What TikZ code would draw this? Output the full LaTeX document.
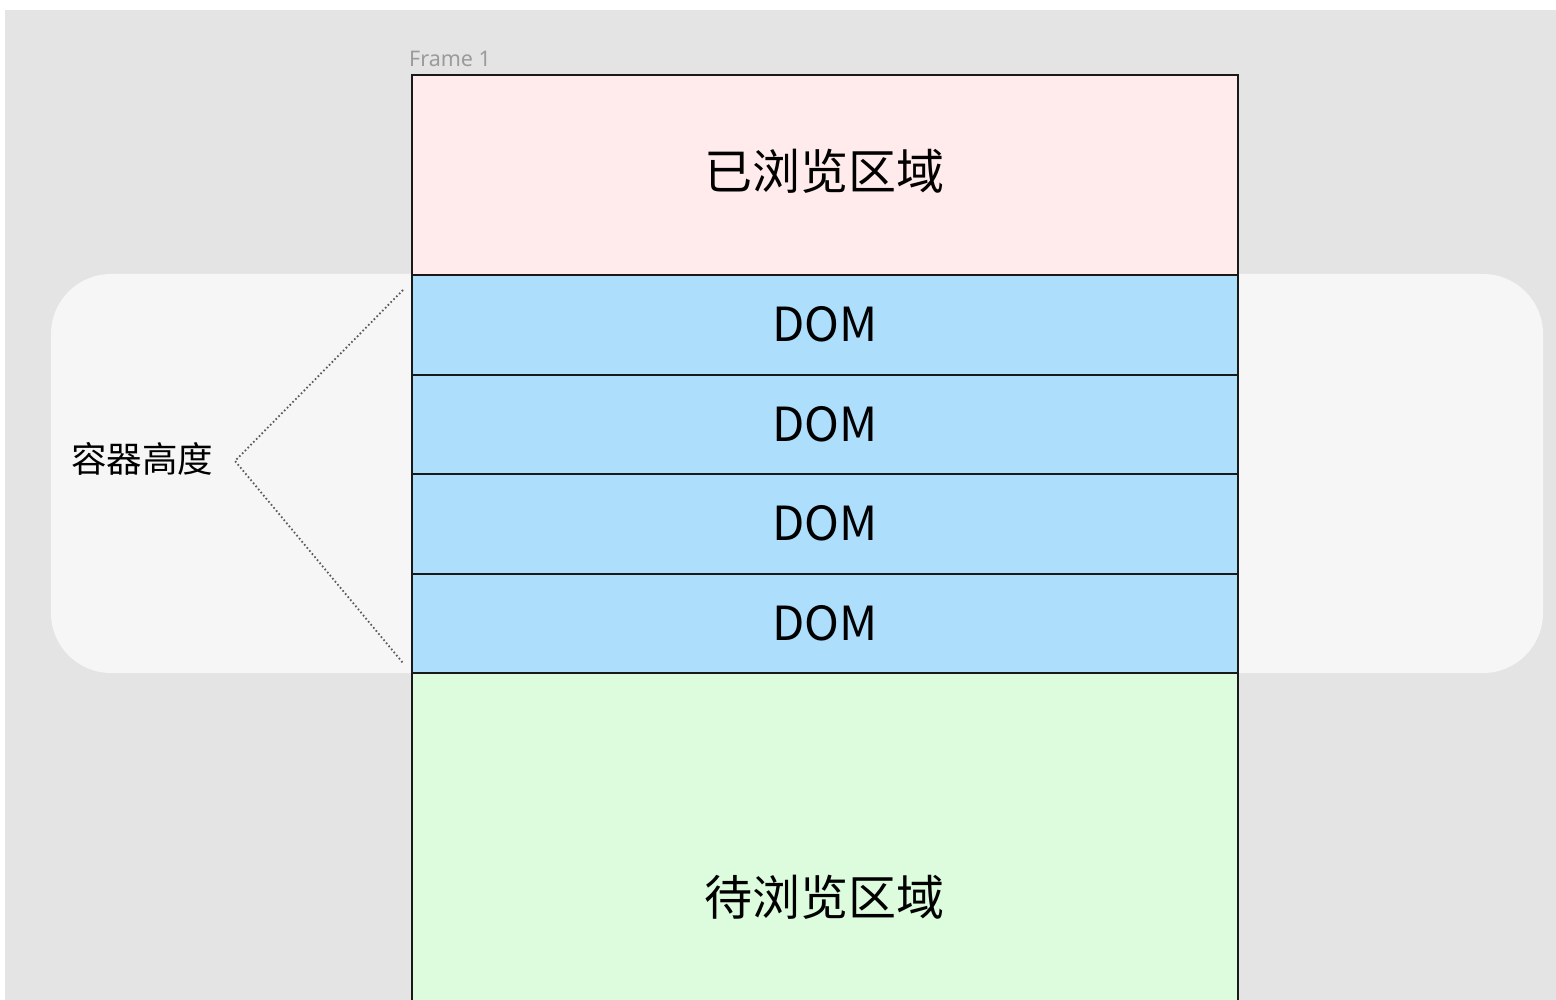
\documentclass[tikz,border=0pt]{standalone}
\usepackage{fontspec}
\newfontfamily\cjk{Noto Sans CJK SC}
\newfontfamily\uifont{Noto Sans}
\definecolor{bggray}{RGB}{228,228,228}
\definecolor{panelgray}{RGB}{246,246,246}
\definecolor{pinkfill}{RGB}{255,235,235}
\definecolor{bluefill}{RGB}{173,223,252}
\definecolor{greenfill}{RGB}{221,252,221}
\definecolor{framelabel}{RGB}{155,155,155}
\begin{document}
\begin{tikzpicture}[x=1pt,y=-1pt,
  region/.style={draw=black!90,line width=2pt,minimum width=826pt,inner sep=0pt,anchor=north west},
  domrow/.style={region,fill=bluefill,minimum height=99.5pt,font=\cjk\fontsize{47}{50}\selectfont},
  bigtext/.style={font=\cjk\fontsize{48}{52}\selectfont}]
\useasboundingbox (0,0) rectangle (1556,1000);
\fill[white] (0,0) rectangle (1556,1000);
\fill[bggray] (5,10) rectangle (1556,1000);
\fill[panelgray,rounded corners=60pt] (51,274) rectangle (1543,673);
\node[anchor=south west,inner sep=0pt,text=framelabel,font=\uifont\fontsize{21.5}{24}\selectfont] (flabel) at (409,67) {Frame 1};
\begin{scope}
\clip (0,0) rectangle (1556,1000);
\node[region,fill=pinkfill,minimum height=200pt] (seen) at (411,74) {};
\node[bigtext] at (824,171) {已浏览区域};
\node[domrow] (d1) at (411,274) {DOM};
\node[domrow] (d2) at (411,373.5) {DOM};
\node[domrow] (d3) at (411,473) {DOM};
\node[domrow] (d4) at (411,572.5) {DOM};
\node[region,fill=greenfill,minimum height=360pt] (todo) at (411,672) {};
\node[bigtext] at (824,897) {待浏览区域};
\end{scope}
\node[font=\cjk\fontsize{35.5}{40}\selectfont,anchor=center] (hlabel) at (142,459) {容器高度};
\coordinate (tip) at (235,461);
\coordinate (top) at (403,290);
\coordinate (bot) at (403,663);
\draw[line width=1.8pt,dash pattern=on 1.6pt off 2.4pt,color=black!65] (top) -- (tip) -- (bot);
\end{tikzpicture}
\end{document}
